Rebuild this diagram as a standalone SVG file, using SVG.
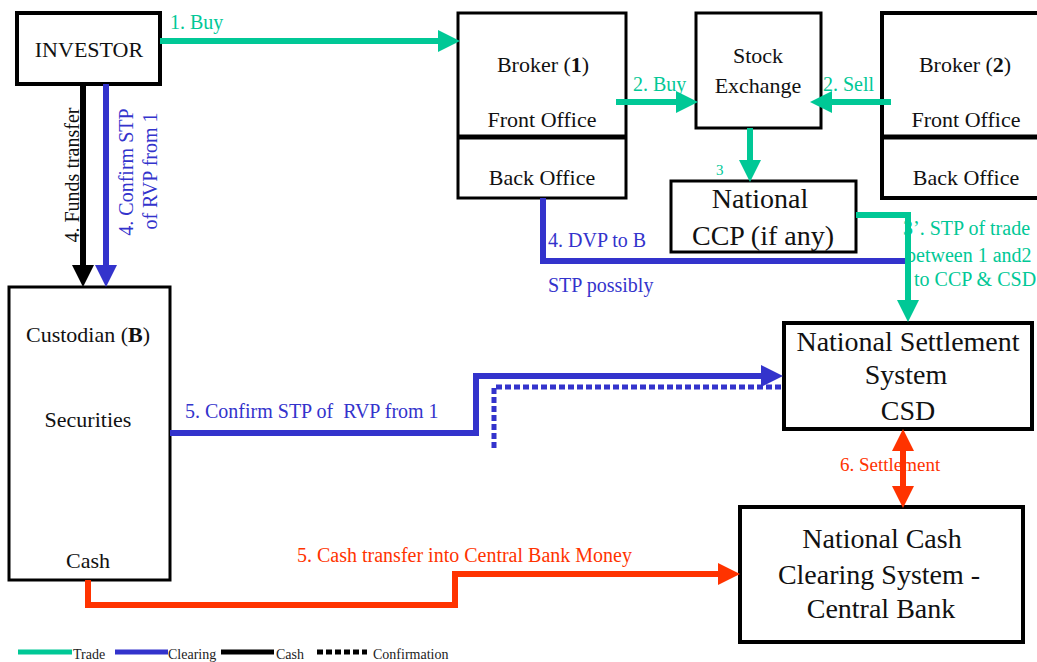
<svg xmlns="http://www.w3.org/2000/svg" width="1037" height="662" viewBox="0 0 1037 662" font-family="'Liberation Serif', 'DejaVu Serif', serif">
<style>
text, tspan{font-family:'Liberation Serif','DejaVu Serif',serif;}
.box{fill:#fff;stroke:#000;stroke-width:3;}
.thick{stroke-width:4;}
.div{stroke:#000;stroke-width:5;}
.n22{font-size:22px;fill:#111;text-anchor:middle;}
.n28{font-size:28px;fill:#111;text-anchor:middle;}
.lbl{font-size:20px;}
.tr{fill:#00C896;}
.cl{fill:#3333CC;}
.rd{fill:#FF3300;}
.ln{fill:none;stroke-width:6;}
.t{stroke:#00C896;}
.b{stroke:#3333CC;}
.k{stroke:#000;}
.r{stroke:#FF3300;}
.dot{fill:none;stroke:#3333CC;stroke-width:5;stroke-dasharray:6 3;}
.lg{font-size:14px;fill:#222;}
</style>
<defs>
<marker id="aT" markerUnits="userSpaceOnUse" viewBox="0 0 22 22" refX="12" refY="11" markerWidth="22" markerHeight="22" orient="auto"><path d="M0,0 L22,11 L0,22 z" fill="#00C896"/></marker>
<marker id="aB" markerUnits="userSpaceOnUse" viewBox="0 0 22 22" refX="12" refY="11" markerWidth="22" markerHeight="22" orient="auto"><path d="M0,0 L22,11 L0,22 z" fill="#3333CC"/></marker>
<marker id="aK" markerUnits="userSpaceOnUse" viewBox="0 0 22 22" refX="12" refY="11" markerWidth="22" markerHeight="22" orient="auto"><path d="M0,0 L22,11 L0,22 z" fill="#000"/></marker>
<marker id="aR" markerUnits="userSpaceOnUse" viewBox="0 0 22 22" refX="12" refY="11" markerWidth="22" markerHeight="22" orient="auto-start-reverse"><path d="M0,0 L22,11 L0,22 z" fill="#FF3300"/></marker>
</defs>
<rect width="1037" height="662" fill="#fff"/>

<g id="investor">
<rect class="box thick" x="17" y="13" width="143" height="71"/>
<text class="n22" x="89" y="57" font-size="23">INVESTOR</text>
</g>
<g id="broker1">
<rect class="box" x="458" y="13" width="168" height="185"/>
<line class="div" x1="458" y1="137" x2="626" y2="137"/>
<text class="n22" x="543" y="72">Broker (<tspan font-weight="bold">1</tspan>)</text>
<text class="n22" x="542" y="127">Front Office</text>
<text class="n22" x="542" y="185">Back Office</text>
</g>
<g id="stock-exchange">
<rect class="box" x="696" y="13" width="125" height="115"/>
<text class="n22" x="758" y="63">Stock</text>
<text class="n22" x="758" y="93">Exchange</text>
</g>
<g id="broker2">
<rect class="box thick" x="882" y="13" width="170" height="185"/>
<line class="div" x1="882" y1="137" x2="1040" y2="137"/>
<text class="n22" x="965" y="72">Broker (<tspan font-weight="bold">2</tspan>)</text>
<text class="n22" x="966" y="127">Front Office</text>
<text class="n22" x="966" y="185">Back Office</text>
</g>
<g id="ccp">
<rect class="box" x="671" y="181" width="185" height="71"/>
<text class="n28" x="760" y="208">National</text>
<text class="n28" x="763" y="245">CCP (if any)</text>
</g>
<g id="csd">
<rect class="box thick" x="784" y="323" width="248" height="106"/>
<text class="n28" x="908" y="351">National Settlement</text>
<text class="n28" x="906" y="384">System</text>
<text class="n28" x="908" y="420">CSD</text>
</g>
<g id="cash-clearing">
<rect class="box thick" x="740" y="507" width="283" height="135"/>
<text class="n28" x="882" y="548">National Cash</text>
<text class="n28" x="879" y="584">Clearing System -</text>
<text class="n28" x="881" y="618">Central Bank</text>
</g>
<g id="custodian">
<rect class="box" x="9" y="287" width="161" height="293"/>
<text class="n22" x="88" y="342">Custodian (<tspan font-weight="bold">B</tspan>)</text>
<text class="n22" x="88" y="427">Securities</text>
<text class="n22" x="88" y="568">Cash</text>
</g>

<g id="labels">
<text class="lbl tr" x="170" y="29">1. Buy</text>
<text class="lbl tr" x="633" y="91">2. Buy</text>
<text class="lbl tr" x="823" y="91">2. Sell</text>
<text class="tr" x="716" y="175" font-size="15">3</text>
<text class="lbl tr" x="903" y="235">3’. STP of trade</text>
<text class="lbl tr" x="906" y="262">between 1 and2</text>
<text class="lbl tr" x="914" y="286">to CCP &amp; CSD</text>
<text class="lbl" x="79" y="175" fill="#111" text-anchor="middle" transform="rotate(-90 79 175)">4. Funds transfer</text>
<text class="lbl cl" x="133" y="172" text-anchor="middle" transform="rotate(-90 133 172)">4. Confirm STP</text>
<text class="lbl cl" x="157" y="171" text-anchor="middle" transform="rotate(-90 157 171)">of RVP from 1</text>
<text class="lbl cl" x="548" y="247">4. DVP to B</text>
<text class="lbl cl" x="548" y="292">STP possibly</text>
<text class="lbl cl" x="185" y="418">5. Confirm STP of&#160; RVP from 1</text>
<text class="lbl rd" x="297" y="562">5. Cash transfer into Central Bank Money</text>
<text class="rd" x="840" y="471" font-size="19">6. Settlement</text>
</g>

<g id="connectors">
<path class="ln t" d="M160,41 H450" marker-end="url(#aT)"/>
<path class="ln k" d="M83,84 V277" marker-end="url(#aK)"/>
<path class="ln b" d="M106,84 V277" marker-end="url(#aB)"/>
<path class="ln t" d="M616,102 H688" marker-end="url(#aT)"/>
<path class="ln t" d="M891,102 H820" marker-end="url(#aT)"/>
<path class="ln t" d="M750,128 V172" marker-end="url(#aT)"/>
<path class="ln b" d="M543,198 V261 H908"/>
<path class="ln t" d="M856,215 H908 V312" marker-end="url(#aT)"/>
<path class="dot" d="M494,448 V387 H783"/>
<path class="ln b" d="M170,433 H476 V376 H773" marker-end="url(#aB)"/>
<path class="ln r" d="M903,439 V498" marker-start="url(#aR)" marker-end="url(#aR)"/>
<path class="ln r" d="M88,580 V605 H455 V574 H730" marker-end="url(#aR)"/>
</g>

<g id="legend">
<line x1="18" y1="652" x2="72" y2="652" stroke="#00C896" stroke-width="5"/>
<text class="lg" x="73" y="659">Trade</text>
<line x1="115" y1="652" x2="168" y2="652" stroke="#3333CC" stroke-width="5"/>
<text class="lg" x="168" y="659">Clearing</text>
<line x1="221" y1="652" x2="274" y2="652" stroke="#000" stroke-width="5"/>
<text class="lg" x="276" y="659">Cash</text>
<line x1="317" y1="652" x2="367" y2="652" stroke="#000" stroke-width="5" stroke-dasharray="6 3"/>
<text class="lg" x="373" y="659">Confirmation</text>
</g>
</svg>
